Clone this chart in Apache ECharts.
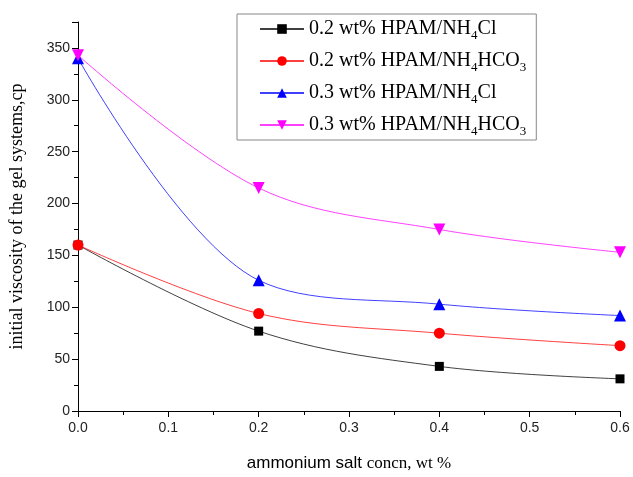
<!DOCTYPE html>
<html><head><meta charset="utf-8">
<script src="https://cdn.jsdelivr.net/npm/echarts@6/dist/echarts.min.js"></script>
<style>html,body{margin:0;padding:0;background:#fff}#c{width:633px;height:477px}</style>
</head><body><div id="c"></div>
<script>
var xValues = [0, 0.2, 0.4, 0.6];
var s1 = [160, 77, 43, 31];   // 0.2 wt% HPAM/NH4Cl
var s2 = [160, 94, 75, 63];   // 0.2 wt% HPAM/NH4HCO3
var s3 = [340, 126, 103, 92]; // 0.3 wt% HPAM/NH4Cl
var s4 = [343, 215, 175, 153];// 0.3 wt% HPAM/NH4HCO3
var names = ['0.2 wt% HPAM/NH{s|4}Cl', '0.2 wt% HPAM/NH{s|4}HCO{s|3}', '0.3 wt% HPAM/NH{s|4}Cl', '0.3 wt% HPAM/NH{s|4}HCO{s|3}'];
var seriesData = [s1, s2, s3, s4];
var colors = ['#000000', '#ff0000', '#0000ff', '#ff00ff'];
var symbols = ['rect', 'circle', 'triangle', 'path://M0,0 L10,0 L5,9 Z'];
var sizes = [9, 11, 12, 12];

var chart = echarts.init(document.getElementById('c'), null, {renderer: 'canvas'});
var series = seriesData.map(function (d, i) {
  return {
    name: names[i],
    type: 'line',
    smooth: 0.35,
    data: xValues.map(function (x, j) { return [x, d[j]]; }),
    symbol: symbols[i],
    symbolSize: sizes[i],
    showSymbol: true,
    clip: false,
    lineStyle: {color: colors[i], width: 1, opacity: 0.75},
    itemStyle: {color: colors[i]},
    z: 2 + i
  };
});
chart.setOption({
  animation: false,
  color: colors,
  grid: {left: 77, right: 13, top: 22, bottom: 63, containLabel: false},
  legend: {
    orient: 'vertical',
    left: 237, top: 14,
    padding: [5, 10, 2, 22],
    itemGap: 9,
    itemWidth: 44,
    itemHeight: 12,
    borderColor: '#888',
    borderWidth: 1,
    backgroundColor: '#fff',
    formatter: function (n) { return n; },
    textStyle: {
      fontFamily: 'Liberation Serif', fontSize: 20, color: '#000',
      rich: {
        s: {fontFamily: 'Liberation Serif', fontSize: 13, color: '#000', verticalAlign: 'bottom', padding: [13, 0, 0, 0]}
      }
    },
    data: names
  },
  xAxis: {
    type: 'value', min: 0, max: 0.6, interval: 0.1,
    name: '{a|ammonium salt }{b|concn, wt %}',
    nameLocation: 'middle', nameGap: 44,
    nameTextStyle: {
      rich: {
        a: {fontFamily: 'Liberation Sans', fontSize: 17, color: '#000'},
        b: {fontFamily: 'Liberation Serif', fontSize: 17, color: '#000'}
      }
    },
    axisLine: {lineStyle: {color: '#000', width: 1}},
    axisTick: {show: true, inside: false, length: 6, lineStyle: {color: '#000'}},
    minorTick: {show: true, splitNumber: 2, length: 4, lineStyle: {color: '#000'}},
    splitLine: {show: false},
    axisLabel: {fontFamily: 'Liberation Sans', fontSize: 14, color: '#222', margin: 10,
      formatter: function (v) { return v.toFixed(1); }}
  },
  yAxis: {
    type: 'value', min: 0, max: 375, interval: 50,
    name: 'initial viscosity of the gel systems,cp',
    nameLocation: 'middle', nameGap: 52, nameRotate: 90,
    nameTextStyle: {fontFamily: 'Liberation Serif', fontSize: 18, color: '#000'},
    axisLine: {show: true, lineStyle: {color: '#000', width: 1}},
    axisTick: {show: true, inside: false, length: 6, lineStyle: {color: '#000'}},
    minorTick: {show: true, splitNumber: 2, length: 4, lineStyle: {color: '#000'}},
    splitLine: {show: false},
    axisLabel: {fontFamily: 'Liberation Sans', fontSize: 14, color: '#222', margin: 8,
      formatter: function (v) { return v % 50 === 0 ? String(v) : ''; }}
  },
  series: series
});
</script></body></html>
